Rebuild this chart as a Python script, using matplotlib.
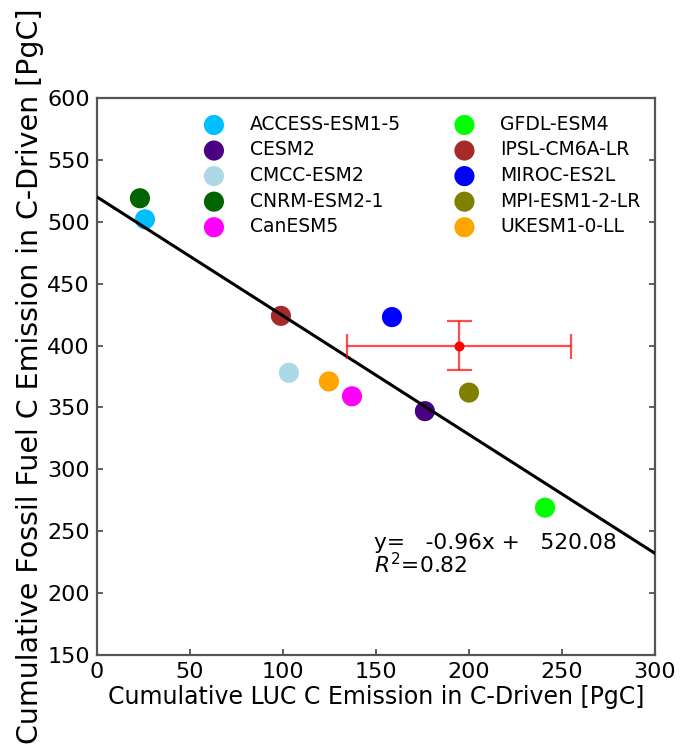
import numpy as np
import matplotlib
matplotlib.use("Agg")
import matplotlib.pyplot as plt

# model values
models = ['ACCESS-ESM1-5', 'CESM2', 'CMCC-ESM2', 'CNRM-ESM2-1', 'CanESM5',
          'GFDL-ESM4', 'IPSL-CM6A-LR', 'MIROC-ES2L', 'MPI-ESM1-2-LR', 'UKESM1-0-LL']
luc = [25.8, 176.3, 103.2, 23.1, 137.1, 240.9, 98.9, 158.6, 200.0, 124.7]
fossil = [502, 347, 378, 519, 359, 269, 424, 423, 362, 371]
colors = ['deepskyblue', 'indigo', 'lightblue', 'darkgreen', 'magenta',
          'lime', 'brown', 'blue', 'olive', 'orange']

# observation-based estimate with uncertainty
obs_x, obs_y = 194.6, 400.0
obs_xerr, obs_yerr = 60.0, 20.0

# regression
slope, intercept, r2 = -0.96, 520.08, 0.82

fig = plt.figure(figsize=(6.8, 7.5), dpi=100)
ax = fig.add_axes([0.1426, 0.1267, 0.8206, 0.7426])

for name, xv, yv, c in zip(models, luc, fossil, colors):
    ax.scatter(xv, yv, s=210, color=c, label=name, zorder=2, edgecolors='none')

xs = np.array([0, 300])
ax.plot(xs, slope * xs + intercept, color='black', lw=2.2, zorder=3)

ax.errorbar(obs_x, obs_y, xerr=obs_xerr, yerr=obs_yerr, fmt='o', color='red',
            ms=6, ecolor='red', elinewidth=1.6, capsize=9, capthick=1.6,
            alpha=0.7, zorder=4)
ax.plot(obs_x, obs_y, 'o', color='red', ms=6, zorder=5)

ax.text(149, 231, 'y=   %.2fx +   %.2f\n$R^2$=%.2f' % (slope, intercept, r2),
        fontsize=15.7, va='center', ha='left', linespacing=0.95)

ax.set_xlim(0, 300)
ax.set_ylim(150, 600)
ax.set_xticks(np.arange(0, 301, 50))
ax.set_yticks(np.arange(150, 601, 50))
ax.tick_params(direction='in', labelsize=16, length=4, width=1.2, pad=5,
               right=True, top=False, colors='#444444', labelcolor='black')
for sp in ax.spines.values():
    sp.set_color('#555555')
    sp.set_linewidth(1.6)

ax.set_xlabel('Cumulative LUC C Emission in C-Driven [PgC]', fontsize=17, labelpad=2)
ax.set_ylabel('Cumulative Fossil Fuel C Emission in C-Driven [PgC]', fontsize=20.5, labelpad=2)

ax.legend(ncol=2, frameon=False, fontsize=13.5, loc='upper center',
          bbox_to_anchor=(0.575, 1.0), handletextpad=0.9, columnspacing=2.4,
          labelspacing=0.35, scatterpoints=1)

fig.savefig('out.png', dpi=100)
